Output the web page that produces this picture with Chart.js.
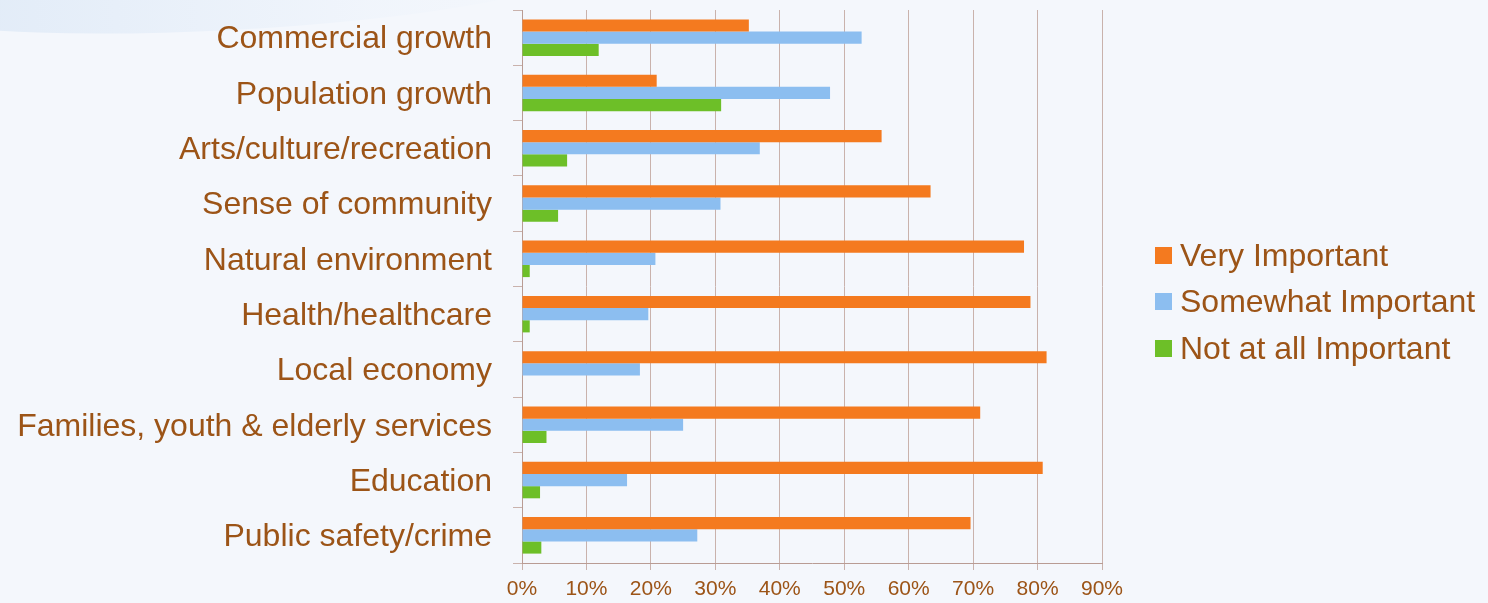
<!DOCTYPE html>
<html>
<head>
<meta charset="utf-8">
<script src="https://cdn.jsdelivr.net/npm/chart.js@4/dist/chart.umd.min.js"></script>
<style>
  html, body { margin: 0; padding: 0; }
  body {
    width: 1488px; height: 603px; overflow: hidden;
    background: #F4F7FC;
    position: relative;
    font-family: 'Liberation Sans', Arial, sans-serif;
  }
  .swoosh {
    position: absolute; left: -120px; top: -60px; width: 700px; height: 90px;
    border-radius: 50%;
    background: linear-gradient(90deg, rgba(220,232,246,0.9), rgba(235,242,251,0.4) 70%, rgba(244,247,252,0));
    transform: rotate(-3deg);
  }
  #wrap { position: absolute; left: 0; top: 0; width: 1488px; height: 603px; }
  #legend { position: absolute; left: 1155px; top: 232px; }
  #legend .item { display: flex; align-items: center; height: 46.5px; font-size: 32px; color: #9C5417; white-space: nowrap; }
  #legend .box { width: 17px; height: 17px; margin-right: 8px; flex: none; }
</style>
</head>
<body>
<div class="swoosh"></div>
<div id="wrap"><canvas id="c"></canvas></div>
<div id="legend"></div>
<script>
const categories = [
  "Commercial growth",
  "Population growth",
  "Arts/culture/recreation",
  "Sense of community",
  "Natural environment",
  "Health/healthcare",
  "Local economy",
  "Families, youth & elderly services",
  "Education",
  "Public safety/crime"
];
const veryImportant     = [35.2, 20.9, 55.8, 63.4, 77.9, 78.9, 81.4, 71.1, 80.8, 69.6];
const somewhatImportant = [52.7, 47.8, 36.9, 30.8, 20.7, 19.6, 18.3, 25.0, 16.3, 27.2];
const notAtAllImportant = [11.9, 30.9,  7.0,  5.6,  1.2,  1.2,  0.0,  3.8,  2.8,  3.0];
const seriesNames = ["Very Important", "Somewhat Important", "Not at all Important"];
const seriesColors = ['#F47A1F', '#8CBEF0', '#6DBF28'];
const xTicks = [0, 10, 20, 30, 40, 50, 60, 70, 80, 90];

const textColor = '#9C5417';
const font = "'Liberation Sans', Arial, sans-serif";
const seriesData = [veryImportant, somewhatImportant, notAtAllImportant];

const chart = new Chart(document.getElementById('c'), {
  type: 'bar',
  data: {
    labels: categories,
    datasets: seriesNames.map((n, i) => ({ label: n, data: seriesData[i], backgroundColor: seriesColors[i] }))
  },
  options: {
    indexAxis: 'y',
    responsive: true,
    maintainAspectRatio: false,
    animation: false,
    datasets: { bar: { categoryPercentage: 0.66, barPercentage: 1.0 } },
    layout: { padding: { left: 10, top: 10, right: 386, bottom: 0 } },
    scales: {
      x: {
        min: 0, max: 90,
        afterBuildTicks: (s) => { s.ticks = xTicks.map(v => ({ value: v })); },
        afterFit: (s) => { s.height = 40; },
        ticks: {
          color: textColor,
          font: { family: font, size: 21 },
          padding: 7,
          maxRotation: 0,
          callback: (v) => v + '%'
        },
        grid: { color: '#C9B2AC', lineWidth: 1, drawTicks: true, tickLength: 7 },
        border: { color: '#B99C94', width: 1 }
      },
      y: {
        afterFit: (s) => { s.width = 512; s.paddingTop = 0; s.paddingBottom = 0; },
        ticks: {
          color: textColor,
          font: { family: font, size: 32 },
          padding: 21,
          labelOffset: 2,
          autoSkip: false
        },
        grid: { drawOnChartArea: false, drawTicks: true, tickLength: 9, color: '#C9B2AC', offset: true },
        border: { color: '#B99C94', width: 1 }
      }
    },
    plugins: {
      legend: { display: false },
      tooltip: { enabled: false }
    }
  }
});

// HTML legend built from the chart's datasets
const lg = document.getElementById('legend');
chart.data.datasets.forEach(ds => {
  const it = document.createElement('div'); it.className = 'item';
  const b = document.createElement('span'); b.className = 'box'; b.style.background = ds.backgroundColor;
  const t = document.createElement('span'); t.textContent = ds.label;
  it.appendChild(b); it.appendChild(t); lg.appendChild(it);
});
</script>
</body>
</html>
